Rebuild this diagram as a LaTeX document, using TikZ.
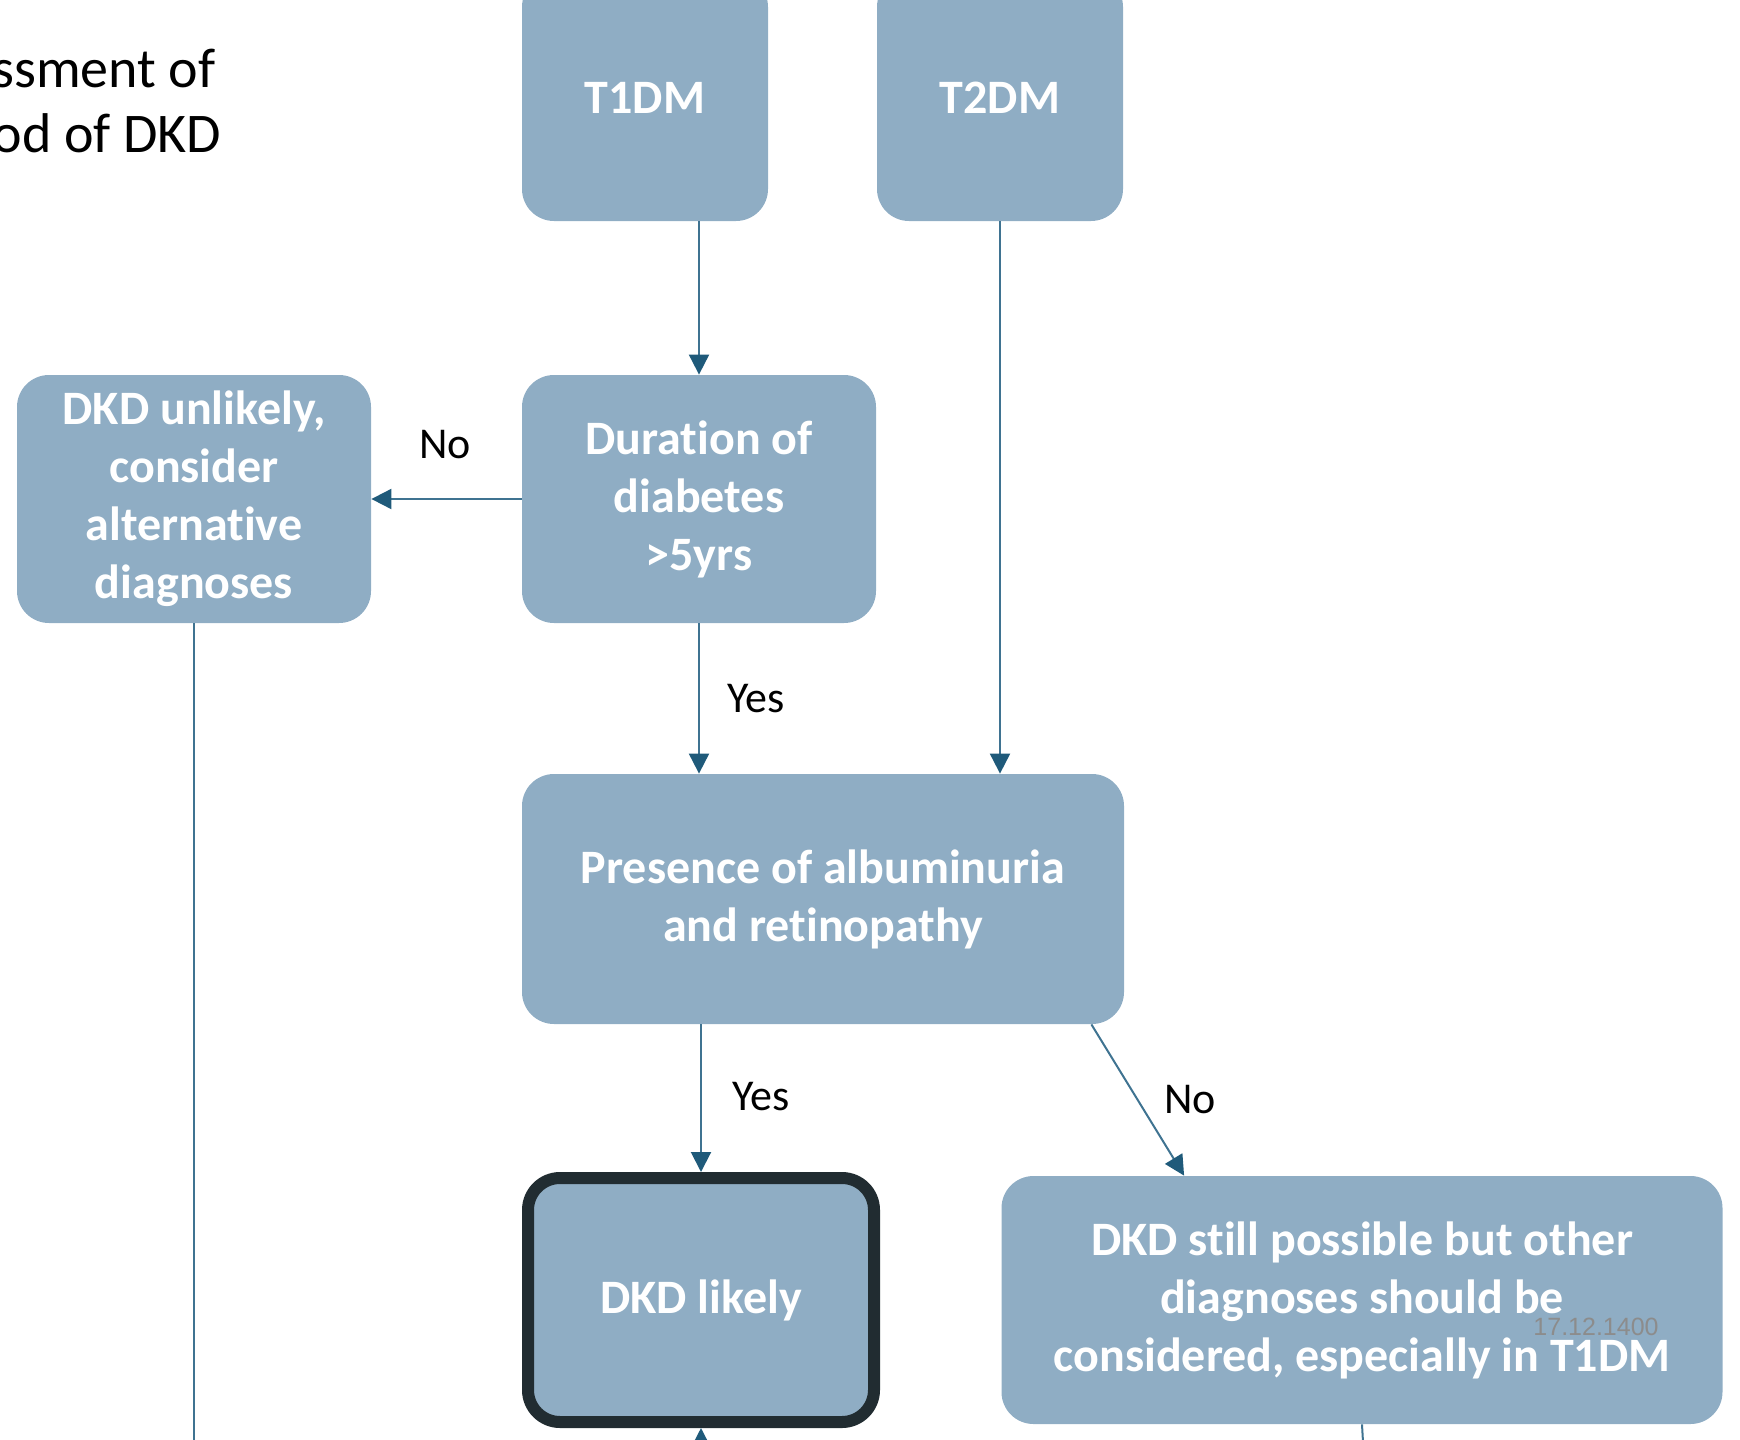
\documentclass[tikz,border=0pt]{standalone}
\usepackage{fontspec}
\setmainfont{Carlito}[RawFeature={-liga;-clig;-calt;-dlig}]
\newfontfamily\stampfont{Liberation Sans}
\usepackage{tikz}
\usetikzlibrary{arrows.meta,positioning}
\definecolor{boxblue}{HTML}{8FADC4}
\definecolor{linkblue}{HTML}{3F7391}
\definecolor{tipblue}{HTML}{1F5A7A}
\definecolor{edgedark}{HTML}{212C31}
\tikzset{
	box/.style = {
		shape=rectangle,
		rounded corners=16pt,
		fill=boxblue,
		text=white,
		align=center,
		font=\fontsize{24}{29}\selectfont\bfseries,
		inner sep=0pt
	},
	likelybox/.style = {
		box,
		draw=edgedark,
		line width=6pt
	},
	arr/.style = {
		draw=linkblue,
		line width=1pt,
		-{Triangle[length=10pt,width=10pt,fill=tipblue,color=tipblue]}
	},
	plainline/.style = {
		draw=linkblue,
		line width=1pt
	},
	lbl/.style = {
		font=\fontsize{22}{26}\selectfont,
		text=black,
		inner sep=0pt
	}
}

\begin{document}
\begin{tikzpicture}[x=0.5pt,y=-0.5pt]
				\useasboundingbox (0,0) rectangle (1740,1440);
				\clip (0,0) rectangle (1740,1440);
				% title, cut at the left edge
				\node[anchor=base east, font=\fontsize{28}{32}\selectfont, inner sep=0pt] (title1) at (216,87) {Assessment of};
				\node[anchor=base east, font=\fontsize{28}{32}\selectfont, inner sep=0pt] (title2) at (222,152) {likelihood of DKD};
				% boxes
				\node[box, minimum width=123pt, minimum height=123pt] (t1) at (645,98) {T1DM};
				\node[box, minimum width=123pt, minimum height=123pt] (t2) at (1000,98) {T2DM};
				\node[box, minimum width=177pt, minimum height=124pt] (dur) at (699,499) {Duration of\\diabetes\\>5yrs};
				\node[box, minimum width=177pt, minimum height=124pt] (unl) at (194,499) {DKD unlikely,\\consider\\alternative\\diagnoses};
				\node[box, minimum width=301pt, minimum height=125pt] (pres) at (823,899) {Presence of albuminuria\\and retinopathy};
				\node[likelybox, minimum width=173pt, minimum height=122pt] (lik) at (701,1300) {DKD likely};
				\node[box, minimum width=360.5pt, minimum height=124pt] (poss) at (1362,1300) {DKD still possible but other\\diagnoses should be\\considered, especially in T1DM};
				% loose ends below the cut
				\coordinate (unlend) at (194,1460);
				\coordinate (likstart) at (701,1470);
				\coordinate (possend) at (1364,1460);
				% connectors
				\draw[arr] (t1.south -| dur.north) -- (dur.north);
				\draw[arr] (t2.south) -- (t2.south |- pres.north);
				\draw[arr] (dur.west) -- (unl.east);
				\draw[arr] (dur.south) -- (dur.south |- pres.north);
				\draw[arr] (pres.south -| lik.north) -- (lik.north);
				\draw[arr] ([xshift=-16.5pt]pres.south east) -- ([xshift=91.5pt]poss.north west);
				\draw[plainline] (unl.south) -- (unlend);
				\draw[arr] (likstart) -- (lik.south);
				\draw[plainline] (poss.south) -- (possend);
				% labels
				\node[lbl] (no1) at (445,445) {No};
				\node[lbl] (yes1) at (756,699) {Yes};
				\node[lbl] (yes2) at (761,1097) {Yes};
				\node[lbl] (no2) at (1190,1100) {No};
				\node[font=\stampfont\fontsize{12.5}{14}\selectfont, text=black!45, inner sep=0pt] (stamp) at (1596,1327) {17.12.1400};
			\end{tikzpicture}
\end{document}
